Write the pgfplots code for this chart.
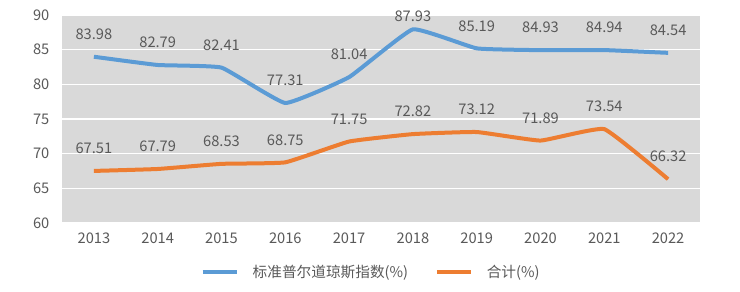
\documentclass[border=0pt]{standalone}
\usepackage{fontspec}
\setmainfont{Noto Sans CJK SC}
\usepackage{pgfplots}
\pgfplotsset{compat=1.18}

\definecolor{djiblue}{HTML}{5B9BD5}
\definecolor{totalorange}{HTML}{ED7D31}
\definecolor{plotbg}{HTML}{D9D9D9}
\definecolor{labelgray}{HTML}{595959}

\begin{document}
\begin{tikzpicture}[x=0.75pt,y=0.75pt]
% page frame: 740 x 292 px, plot area corner at origin
\path[use as bounding box] (-62,-69) rectangle (678,223);
\begin{axis}[
  at={(0,0)}, anchor=south west,
  scale only axis,
  width=478.5pt, height=156pt,
  xmin=-0.5, xmax=9.5,
  ymin=60, ymax=90,
  ytick={60,65,...,90},
  xtick={0,...,9},
  xticklabels={2013,2014,2015,2016,2017,2018,2019,2020,2021,2022},
  axis background/.style={fill=plotbg},
  axis line style={draw=none},
  tick style={draw=none},
  ymajorgrids,
  grid style={white, line width=0.8pt},
  clip=false,
  tick label style={font=\fontsize{11}{13}\selectfont, text=labelgray},
  /pgf/number format/assume math mode=true,
  xticklabel style={yshift=-4pt},
  yticklabel style={xshift=-6pt},
  nodes near coords,
  visualization depends on={\thisrow{dy} \as \labelshift},
  nodes near coords style={font=\fontsize{11}{13}\selectfont, text=labelgray,
    anchor=south, yshift=\labelshift pt},
  point meta=explicit symbolic,
  legend style={at={(0.485,-0.235)}, anchor=center, draw=none, fill=none,
    legend columns=2, font=\fontsize{11}{13}\selectfont, text=labelgray,
    /tikz/every even column/.append style={column sep=18pt}},
  legend image code/.code={\draw[#1, line width=3pt] (0pt,0pt) -- (26pt,0pt);},
]
% dy: label offset above the point, in pt
\addplot[djiblue, line width=3pt, smooth, tension=0.2, no markers] table[meta=label] {
x y label dy
0 83.98 83.98 8
1 82.79 82.79 8
2 82.41 82.41 8
3 77.31 77.31 8
4 81.04 81.04 8
5 87.93 87.93 1
6 85.19 85.19 8
7 84.93 84.93 8
8 84.94 84.94 8
9 84.54 84.54 8
};
\addlegendentry{\hspace{8pt}标准普尔道琼斯指数(\%)}
\addplot[totalorange, line width=3pt, smooth, tension=0.2, no markers] table[meta=label] {
x y label dy
0 67.51 67.51 8
1 67.79 67.79 8
2 68.53 68.53 8
3 68.75 68.75 8
4 71.75 71.75 8
5 72.82 72.82 8
6 73.12 73.12 8
7 71.89 71.89 8
8 73.54 73.54 8
9 66.32 66.32 8
};
\addlegendentry{\hspace{8pt}合计(\%)}
\end{axis}
\end{tikzpicture}
\end{document}
